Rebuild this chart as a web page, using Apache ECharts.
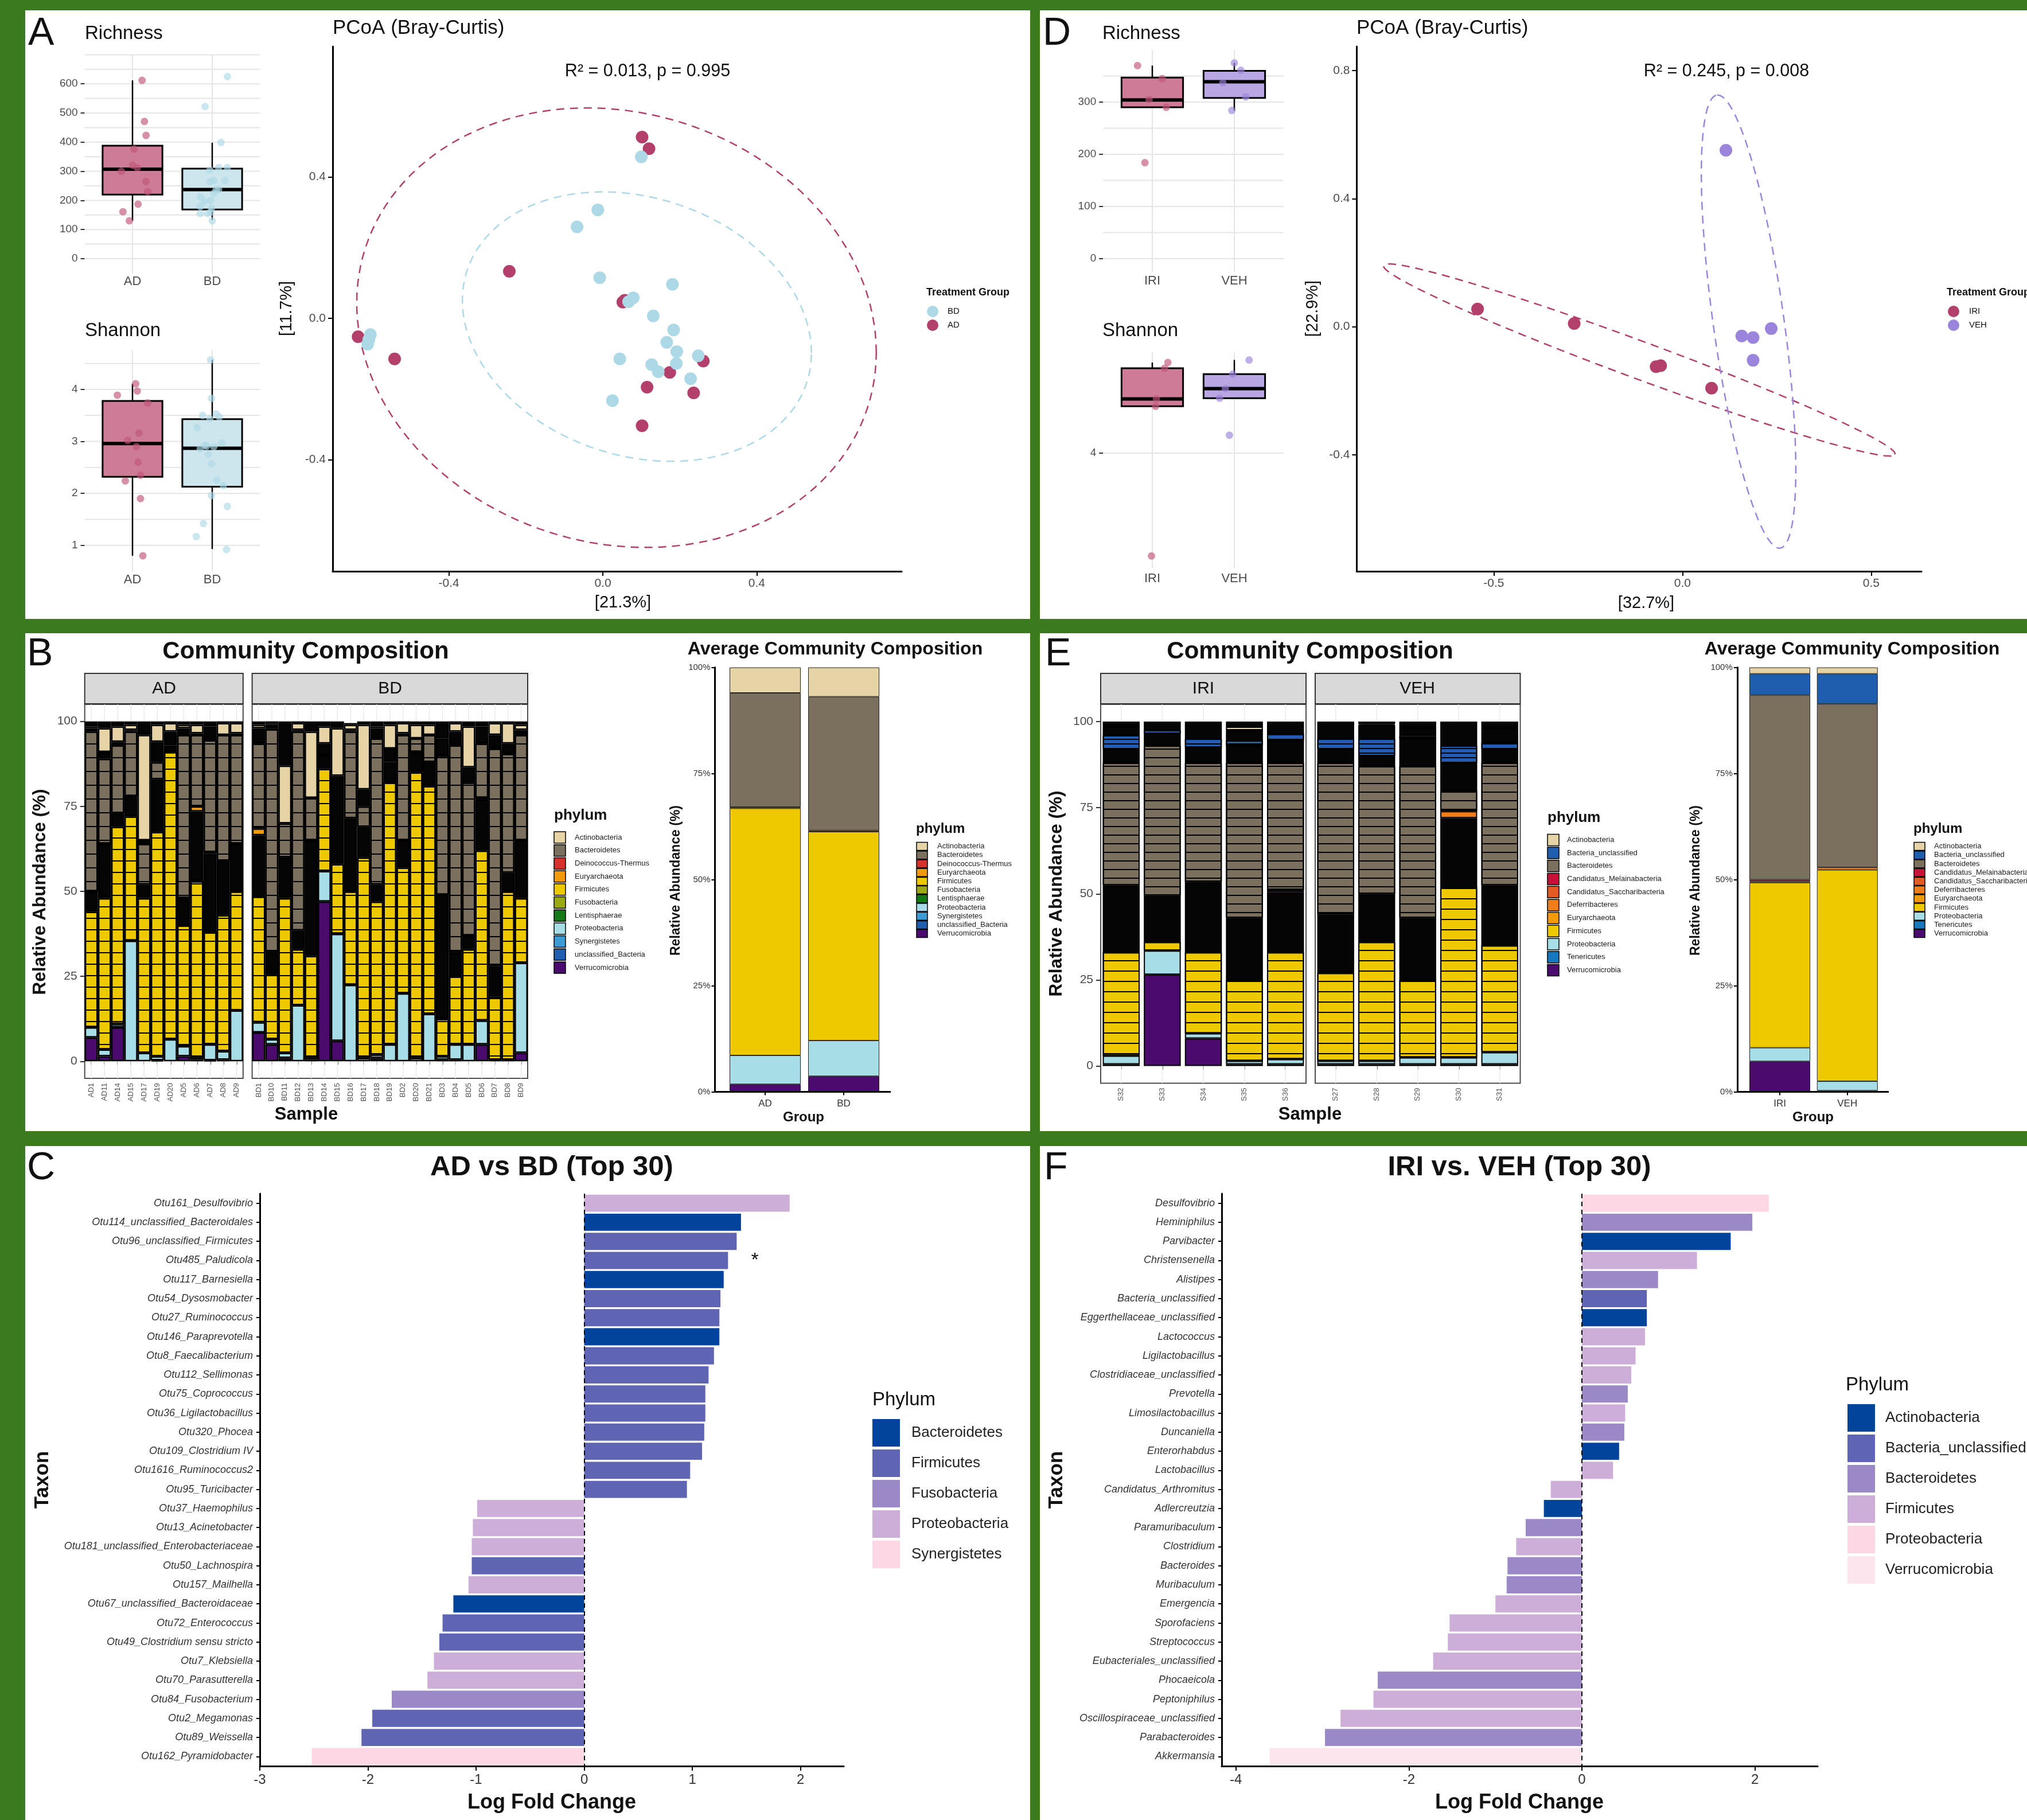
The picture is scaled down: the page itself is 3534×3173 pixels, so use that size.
<!DOCTYPE html>
<html>
<head>
<meta charset="UTF-8">
<title>Gut microbiome: diversity, composition and differential abundance</title>
<script src="https://cdn.jsdelivr.net/npm/echarts@6.0.0/dist/echarts.min.js"></script>
<style>
  html, body { margin: 0; padding: 0; background: #3c7a1f; }
  #main { width: 3534px; height: 3173px; }
</style>
</head>
<body>
<div id="main"></div>
<script>
// ---------------- panel A : alpha / beta diversity, AD vs BD ----------------
const groupsA = ['AD', 'BD'];
const richnessAD = [612, 471, 423, 376, 321, 312, 300, 265, 230, 187, 161, 130];
const richnessADJitter = [0.12, 0.15, 0.17, 0.02, 0.0, 0.06, -0.14, 0.17, 0.19, 0.07, -0.12, -0.04];
const richnessBD = [625, 522, 399, 313, 313, 304, 268, 268, 264, 237, 213, 200, 179, 173, 155, 155, 159, 130, 237, 224, 197];
const richnessBDJitter = [0.19, -0.09, 0.11, 0.19, 0.08, -0.03, 0.02, 0.16, -0.03, 0.08, -0.15, -0.02, -0.15, -0.01, -0.15, -0.06, -0.02, 0.0, 0.05, 0.02, -0.10];
const richnessBoxAD = [130, 220, 307, 388, 612];   // min, q1, median, q3, max
const richnessBoxBD = [133, 169, 237, 309, 398];
const shannonAD = [4.11, 3.97, 3.89, 3.74, 3.16, 3.02, 2.90, 2.60, 2.35, 2.24, 1.90, 0.80];
const shannonADJitter = [0.04, 0.06, -0.19, 0.19, 0.08, -0.06, 0.05, 0.07, 0.10, -0.09, 0.10, 0.13];
const shannonBD = [4.57, 3.83, 3.53, 3.50, 3.47, 3.44, 3.27, 2.97, 2.93, 2.90, 2.86, 2.75, 2.57, 2.26, 2.15, 1.96, 1.75, 1.42, 1.17, 0.92, 2.91];
const shannonBDJitter = [-0.02, -0.01, 0.05, -0.12, 0.09, -0.03, -0.19, 0.12, -0.09, 0.02, -0.15, -0.05, -0.01, 0.06, 0.14, -0.01, 0.19, -0.11, -0.20, 0.18, -0.07];
const shannonBoxAD = [0.80, 2.32, 2.96, 3.78, 4.11];
const shannonBoxBD = [0.93, 2.13, 2.87, 3.43, 4.57];
const pcoaAD = [[0.102, 0.513], [0.120, 0.480], [-0.243, 0.133], [0.057, 0.051], [0.052, 0.046], [-0.636, -0.052],
  [-0.541, -0.115], [0.261, -0.121], [0.174, -0.153], [0.115, -0.195], [0.236, -0.211], [0.102, -0.304]];
const pcoaBD = [[0.100, 0.457], [-0.013, 0.307], [-0.067, 0.259], [-0.008, 0.115], [0.181, 0.096], [0.079, 0.058],
  [0.067, 0.047], [0.131, 0.007], [0.184, -0.033], [-0.604, -0.046], [-0.608, -0.060], [-0.611, -0.073],
  [0.166, -0.068], [0.192, -0.094], [0.248, -0.106], [0.044, -0.115], [0.127, -0.131], [0.191, -0.128],
  [0.144, -0.151], [0.228, -0.171], [0.025, -0.233]];
// ellipse: centre x, centre y, conjugate half-axis u (x, y), conjugate half-axis v (x, y)
const ellipseAD = [0.0355, -0.0265, 0.675, -0.07, 0, 0.618];
const ellipseBD = [0.0885, -0.0235, 0.4535, -0.0745, 0, 0.374];

// ---------------- panel D : alpha / beta diversity, IRI vs VEH ----------------
const groupsD = ['IRI', 'VEH'];
const richnessIRI = [370, 345, 305, 290, 184];
const richnessIRIJitter = [-0.18, 0.12, -0.04, 0.17, -0.09];
const richnessVEH = [361, 337, 310, 284, 375];
const richnessVEHJitter = [0.08, -0.14, 0.14, -0.03, 0.0];
const richnessBoxIRI = [290, 290, 304, 347, 370];
const richnessBoxVEH = [284, 308, 339, 360, 375];
const shannonIRI = [4.358, 4.335, 4.214, 4.185, 3.594];
const shannonIRIJitter = [0.19, 0.15, 0.05, 0.04, -0.01];
const shannonVEH = [4.368, 4.312, 4.255, 4.217, 4.071];
const shannonVEHJitter = [0.18, -0.02, -0.11, -0.18, -0.06];
const shannonBoxIRI = [4.185, 4.185, 4.214, 4.335, 4.358];
const shannonBoxVEH = [4.217, 4.217, 4.255, 4.312, 4.368];
const pcoaIRI = [[-0.543, 0.055], [-0.287, 0.010], [-0.070, -0.125], [-0.058, -0.122], [0.077, -0.192]];
const pcoaVEH = [[0.115, 0.551], [0.157, -0.029], [0.187, -0.034], [0.235, -0.006], [0.187, -0.105]];
const ellipseIRI = [-0.1145, -0.104, 0.6775, -0.2955, 0.0228, 0.0523];
const ellipseVEH = [0.175, 0.0158, -0.0833, 0.7077, 0.0934, 0.011];

// gridline positions of the small box plots
const richnessGridA = [0, 50, 100, 150, 200, 250, 300, 350, 400, 450, 500, 550, 600, 650, 700];
const shannonGridA = [1, 1.5, 2, 2.5, 3, 3.5, 4, 4.5];
const richnessGridD = [0, 50, 100, 150, 200, 250, 300, 350];
const shannonGridD = [4];

// ---------------- panel B : composition per sample (% , bottom to top) ----------------
const adSamples = ['AD1', 'AD11', 'AD14', 'AD15', 'AD17', 'AD19', 'AD20', 'AD5', 'AD6', 'AD7', 'AD8', 'AD9'];
const adVerruco = [7, 1.5, 10, 0, 0, 0.3, 0, 1.5, 0.5, 0.3, 0.5, 0];
const adProteo = [3, 2, 1, 35.5, 2.5, 1.2, 6.5, 3, 0.5, 4.7, 2.5, 15];
const adFirm = [34, 44.5, 58, 36.5, 45.5, 66, 84.5, 35.5, 52, 33, 40, 35];
const adFirmRare = [6, 16, 4, 6, 4, 15.5, 2, 8, 20.5, 23, 16, 14];
const adEury = [0, 0, 0, 0, 0, 0, 0, 0, 1.5, 0.5, 0, 0];
const adBact = [47, 25, 20, 19, 12, 5, 0, 48, 21, 33, 37, 32];
const adBactRare = [1, 2, 1, 0.5, 1, 6, 4, 2, 0.5, 4, 0, 0.5];
const adActino = [0.5, 7, 4.5, 1.5, 31, 5, 2.5, 1, 2.5, 0, 3.5, 3];
const adActinoRare = [1.5, 2, 1.5, 1, 4, 1, 0.5, 1, 1, 1.5, 0.5, 0.5];

const bdSamples = ['BD1', 'BD10', 'BD11', 'BD12', 'BD13', 'BD14', 'BD15', 'BD16', 'BD17', 'BD18', 'BD19', 'BD2', 'BD20', 'BD21', 'BD3', 'BD4', 'BD5', 'BD6', 'BD7', 'BD8', 'BD9'];
const bdVerruco = [8.5, 5, 1, 0, 0.5, 47, 6, 0, 0, 1, 0, 0, 0, 0, 0.5, 0.5, 0, 5, 0, 0, 2.5];
const bdProteo = [3, 1.5, 1.5, 16.5, 0.5, 9, 31.5, 22.5, 1, 1, 5, 20, 1, 14, 1, 4.5, 5, 7, 0.5, 0.5, 26.5];
const bdFirm = [37, 19, 45.5, 16.5, 30, 30, 20.5, 27.5, 59, 45, 77, 37, 84, 67, 11, 20, 28, 50, 18.5, 49.5, 19];
const bdFirmRare = [18, 6.5, 12, 5.5, 34, 4, 26, 21.5, 9, 5, 6, 8, 6, 7, 36.5, 7, 4, 15, 9, 5.5, 17];
const bdEury = [2, 0, 0, 0, 0, 0, 0, 0, 0, 0, 0, 0, 0, 0, 0, 0, 0, 0.5, 0, 0, 0];
const bdBact = [25, 66, 10, 58.5, 12.5, 0, 0, 25.5, 6, 43, 0, 31, 4, 8, 41, 61, 45, 16, 64, 35, 31];
const bdBactRare = [4.5, 1, 0, 0.5, 0, 3.5, 0, 0.5, 5, 3, 4, 0.5, 0, 0, 5, 4, 4.5, 5, 4, 3, 1.5];
const bdActino = [1, 0.5, 17, 2, 19.5, 5, 14, 1.5, 19, 0.5, 7, 3, 4, 3, 0, 2.5, 12, 0, 3.5, 6, 1.5];
const bdActinoRare = [1, 0.5, 13, 0.5, 3, 1.5, 2, 0.5, 1, 1.5, 1, 0.5, 1, 1, 5, 0.5, 1.5, 1.5, 0.5, 0.5, 1];

// group means, B (AD, BD)
const avgGroupsB = ['AD', 'BD'];
const avgVerrucoB = [1.8, 3.7];
const avgProteoB = [6.8, 8.4];
const avgFirmB = [58.2, 49.2];
const avgEuryB = [0.3, 0.3];
const avgBactB = [26.9, 31.5];
const avgActinoB = [6.0, 6.9];

// ---------------- panel E : composition per sample ----------------
const iriSamples = ['S32', 'S33', 'S34', 'S35', 'S36'];
const iriVerruco = [0.5, 26.5, 8, 0.5, 0.5];
const iriProteo = [2.5, 7, 1.5, 1, 1.5];
const iriFirm = [30, 2.5, 23.5, 23.5, 31];
const iriFirmRare = [19.5, 13.5, 20.5, 18, 17.5];
const iriDefer = [0, 0, 0, 0, 0];
const iriMelaina = [0, 0, 0, 0, 0.7];
const iriBact = [35.5, 43.5, 34.5, 45, 36.8];
const iriBactRare = [4, 3.5, 4.5, 5, 6.5];
const iriUncl = [4, 1, 2.5, 1.5, 2];
const iriUnclRare = [2.5, 2.5, 5, 3, 3.5];
const iriActino = [0.5, 0, 0, 1, 0];
const iriActinoRare = [1, 0, 0, 1.5, 0];

const vehSamples = ['S27', 'S28', 'S29', 'S30', 'S31'];
const vehVerruco = [0.5, 0.5, 0.5, 0.5, 0.5];
const vehProteo = [1, 1, 2, 2, 3.5];
const vehFirm = [25.5, 34.5, 22.5, 49.5, 31];
const vehFirmRare = [17, 14, 18, 20, 17.5];
const vehDefer = [0, 0, 0, 2, 0];
const vehMelaina = [0, 0, 0, 0, 0];
const vehBact = [44, 37, 44, 6, 35.5];
const vehBactRare = [4, 3, 8, 8, 4];
const vehUncl = [3, 5, 0.7, 5, 2];
const vehUnclRare = [5, 4, 2.3, 7, 4];
const vehActino = [0, 0.3, 0.5, 0, 0.5];
const vehActinoRare = [0, 0.7, 1.5, 0, 1.5];

// group means, E (IRI, VEH)
const avgGroupsE = ['IRI', 'VEH'];
const avgVerrucoE = [7.2, 0];
const avgTenerE = [0, 0.3];
const avgProteoE = [3.2, 2.2];
const avgFirmE = [38.9, 49.8];
const avgDeferE = [0.3, 0.6];
const avgMelainaE = [0.4, 0];
const avgBactE = [43.5, 38.5];
const avgUnclE = [5.0, 7.1];
const avgActinoE = [1.5, 1.5];

// ---------------- panel C : differential abundance AD vs BD ----------------
const cTaxa = ['Otu161_Desulfovibrio', 'Otu114_unclassified_Bacteroidales', 'Otu96_unclassified_Firmicutes', 'Otu485_Paludicola',
  'Otu117_Barnesiella', 'Otu54_Dysosmobacter', 'Otu27_Ruminococcus', 'Otu146_Paraprevotella', 'Otu8_Faecalibacterium',
  'Otu112_Sellimonas', 'Otu75_Coprococcus', 'Otu36_Ligilactobacillus', 'Otu320_Phocea', 'Otu109_Clostridium IV',
  'Otu1616_Ruminococcus2', 'Otu95_Turicibacter', 'Otu37_Haemophilus', 'Otu13_Acinetobacter',
  'Otu181_unclassified_Enterobacteriaceae', 'Otu50_Lachnospira', 'Otu157_Mailhella', 'Otu67_unclassified_Bacteroidaceae',
  'Otu72_Enterococcus', 'Otu49_Clostridium sensu stricto', 'Otu7_Klebsiella', 'Otu70_Parasutterella',
  'Otu84_Fusobacterium', 'Otu2_Megamonas', 'Otu89_Weissella', 'Otu162_Pyramidobacter'];
const cLogFC = [1.90, 1.45, 1.41, 1.33, 1.29, 1.26, 1.25, 1.25, 1.20, 1.15, 1.12, 1.12, 1.11, 1.09, 0.98, 0.95,
  -0.99, -1.03, -1.04, -1.04, -1.07, -1.21, -1.31, -1.34, -1.39, -1.45, -1.78, -1.96, -2.06, -2.52];
const cPhylum = ['Proteobacteria', 'Bacteroidetes', 'Firmicutes', 'Firmicutes', 'Bacteroidetes', 'Firmicutes', 'Firmicutes',
  'Bacteroidetes', 'Firmicutes', 'Firmicutes', 'Firmicutes', 'Firmicutes', 'Firmicutes', 'Firmicutes', 'Firmicutes',
  'Firmicutes', 'Proteobacteria', 'Proteobacteria', 'Proteobacteria', 'Firmicutes', 'Proteobacteria', 'Bacteroidetes',
  'Firmicutes', 'Firmicutes', 'Proteobacteria', 'Proteobacteria', 'Fusobacteria', 'Firmicutes', 'Firmicutes', 'Synergistetes'];
const cPhylaLegend = ['Bacteroidetes', 'Firmicutes', 'Fusobacteria', 'Proteobacteria', 'Synergistetes'];

// ---------------- panel F : differential abundance IRI vs VEH ----------------
const fTaxa = ['Desulfovibrio', 'Heminiphilus', 'Parvibacter', 'Christensenella', 'Alistipes', 'Bacteria_unclassified',
  'Eggerthellaceae_unclassified', 'Lactococcus', 'Ligilactobacillus', 'Clostridiaceae_unclassified', 'Prevotella',
  'Limosilactobacillus', 'Duncaniella', 'Enterorhabdus', 'Lactobacillus', 'Candidatus_Arthromitus', 'Adlercreutzia',
  'Paramuribaculum', 'Clostridium', 'Bacteroides', 'Muribaculum', 'Emergencia', 'Sporofaciens', 'Streptococcus',
  'Eubacteriales_unclassified', 'Phocaeicola', 'Peptoniphilus', 'Oscillospiraceae_unclassified', 'Parabacteroides', 'Akkermansia'];
const fLogFC = [2.16, 1.97, 1.72, 1.33, 0.88, 0.75, 0.75, 0.73, 0.62, 0.57, 0.53, 0.50, 0.49, 0.43, 0.36,
  -0.36, -0.44, -0.65, -0.76, -0.86, -0.87, -1.00, -1.53, -1.55, -1.72, -2.36, -2.41, -2.79, -2.97, -3.61];
const fPhylum = ['Proteobacteria', 'Bacteroidetes', 'Actinobacteria', 'Firmicutes', 'Bacteroidetes', 'Bacteria_unclassified',
  'Actinobacteria', 'Firmicutes', 'Firmicutes', 'Firmicutes', 'Bacteroidetes', 'Firmicutes', 'Bacteroidetes', 'Actinobacteria',
  'Firmicutes', 'Firmicutes', 'Actinobacteria', 'Bacteroidetes', 'Firmicutes', 'Bacteroidetes', 'Bacteroidetes', 'Firmicutes',
  'Firmicutes', 'Firmicutes', 'Firmicutes', 'Bacteroidetes', 'Firmicutes', 'Firmicutes', 'Bacteroidetes', 'Verrucomicrobia'];
const fPhylaLegend = ['Actinobacteria', 'Bacteria_unclassified', 'Bacteroidetes', 'Firmicutes', 'Proteobacteria', 'Verrucomicrobia'];

const bLegend = ['Actinobacteria', 'Bacteroidetes', 'Deinococcus-Thermus', 'Euryarchaeota', 'Firmicutes', 'Fusobacteria',
  'Lentisphaerae', 'Proteobacteria', 'Synergistetes', 'unclassified_Bacteria', 'Verrucomicrobia'];
const eLegend = ['Actinobacteria', 'Bacteria_unclassified', 'Bacteroidetes', 'Candidatus_Melainabacteria',
  'Candidatus_Saccharibacteria', 'Deferribacteres', 'Euryarchaeota', 'Firmicutes', 'Proteobacteria', 'Tenericutes', 'Verrucomicrobia'];

// ---------------- styling ----------------
const FONT = '"Liberation Sans", Arial, Helvetica, sans-serif';
const PHY = {
  'Actinobacteria': '#e6d4a6', 'Bacteroidetes': '#7a705d', 'Deinococcus-Thermus': '#d7312e', 'Euryarchaeota': '#f29a0c',
  'Firmicutes': '#efc900', 'Fusobacteria': '#9ba914', 'Lentisphaerae': '#157a16', 'Proteobacteria': '#a7dde6',
  'Synergistetes': '#3b9bd2', 'unclassified_Bacteria': '#1f5eae', 'Verrucomicrobia': '#4b0b6e',
  'Bacteria_unclassified': '#1f5eae', 'Candidatus_Melainabacteria': '#c8123a', 'Candidatus_Saccharibacteria': '#e35a22',
  'Deferribacteres': '#ef7d1a', 'Tenericutes': '#1679bf'
};
const C_COL = { Bacteroidetes: '#02449c', Firmicutes: '#5f64b3', Fusobacteria: '#9a88c7', Proteobacteria: '#cdaed9', Synergistetes: '#fdd7e4' };
const F_COL = { Actinobacteria: '#02449c', Bacteria_unclassified: '#5f64b3', Bacteroidetes: '#9a88c7', Firmicutes: '#cdaed9',
  Proteobacteria: '#fdd7e4', Verrucomicrobia: '#fde5ee' };
const RED_BOX = '#cd7b96', RED_PT = '#c0567a', RED_DOT = '#b3406a';
const BLUE_BOX = '#cde6ee', BLUE_PT = '#add8e6';
const PURP_BOX = '#b9a7e3', PURP_PT = '#9b84dc';
const BLACK = '#050505';
const stripes = (gap) => ({ symbol: 'rect', symbolSize: 1, dashArrayX: [1, 0], dashArrayY: [2, gap], color: '#000', rotation: 0 });

// ---------------- helpers ----------------
function boxItem(params, api) {
  const x = api.value(0);
  const lo = api.coord([x, api.value(1)]);
  const q1 = api.coord([x, api.value(2)]);
  const md = api.coord([x, api.value(3)]);
  const q3 = api.coord([x, api.value(4)]);
  const hi = api.coord([x, api.value(5)]);
  const hw = api.size([0.75, 0])[0] / 2;
  const ls = { stroke: '#000', lineWidth: 2.5 };
  return {
    type: 'group', children: [
      { type: 'line', shape: { x1: lo[0], y1: lo[1], x2: q1[0], y2: q1[1] }, style: ls },
      { type: 'line', shape: { x1: q3[0], y1: q3[1], x2: hi[0], y2: hi[1] }, style: ls },
      { type: 'rect', shape: { x: q1[0] - hw, y: q3[1], width: 2 * hw, height: q1[1] - q3[1] },
        style: { fill: api.visual('color'), stroke: '#000', lineWidth: 3 } },
      { type: 'line', shape: { x1: md[0] - hw, y1: md[1], x2: md[0] + hw, y2: md[1] }, style: { stroke: '#000', lineWidth: 6 } }
    ]
  };
}

// one gridline per item: [x, y, 0] horizontal through y, [x, y, 1] vertical through x
function gridLineItem(color, width) {
  return function (params, api) {
    const cs = params.coordSys;
    const p = api.coord([api.value(0), api.value(1)]);
    const vertical = api.value(2) === 1;
    return {
      type: 'line',
      shape: vertical ? { x1: p[0], y1: cs.y, x2: p[0], y2: cs.y + cs.height } : { x1: cs.x, y1: p[1], x2: cs.x + cs.width, y2: p[1] },
      style: { stroke: color, lineWidth: width }
    };
  };
}
function gridSeries(gi, hVals, vVals, xRef, yRef, color, width) {
  return {
    type: 'custom', xAxisIndex: gi, yAxisIndex: gi, silent: true, z: 1, renderItem: gridLineItem(color, width),
    data: hVals.map(v => [xRef, v, 0]).concat(vVals.map(v => [v, yRef, 1]))
  };
}

function ellipse(p) {
  const pts = [];
  for (let k = 0; k <= 144; k++) {
    const t = 2 * Math.PI * k / 144;
    pts.push([p[0] + p[2] * Math.cos(t) + p[4] * Math.sin(t), p[1] + p[3] * Math.cos(t) + p[5] * Math.sin(t)]);
  }
  return pts;
}

function boxXAxis(gi, labels, margin) {
  return {
    gridIndex: gi, type: 'value', min: 0.4, max: 2.6,
    axisLine: { show: false },
    axisTick: { show: true, inside: true, customValues: [1, 2], length: 7, lineStyle: { color: '#333', width: 2 } },
    axisLabel: { customValues: [1, 2], formatter: v => labels[Math.round(v) - 1], fontSize: 22, fontFamily: FONT, color: '#4d4d4d', margin },
    splitLine: { show: false }
  };
}
function boxYAxis(gi, min, max, labels, fmt) {
  return {
    gridIndex: gi, type: 'value', min, max,
    axisLine: { show: false },
    axisTick: { show: true, customValues: labels, length: 7, lineStyle: { color: '#333', width: 2 } },
    axisLabel: { customValues: labels, fontSize: 19, fontFamily: FONT, color: '#4d4d4d', margin: 12, formatter: fmt || (v => String(v)) },
    splitLine: { show: false }
  };
}
function pcoaAxis(gi, min, max, ticks, vertical) {
  return {
    gridIndex: gi, type: 'value', min, max,
    axisLine: { show: true, onZero: false, lineStyle: { color: '#000', width: 3 } },
    axisTick: { show: true, customValues: ticks, length: 8, lineStyle: { color: '#000', width: 2 } },
    axisLabel: { customValues: ticks, fontSize: 21, fontFamily: FONT, color: '#4d4d4d', margin: vertical ? 12 : 11,
      formatter: v => v.toFixed(1) },
    splitLine: { show: false }
  };
}
function sampleXAxis(gi, names) {
  return {
    gridIndex: gi, type: 'category', data: names,
    axisLine: { show: false },
    axisTick: { show: true, alignWithLabel: true, length: 6, lineStyle: { color: '#333', width: 1.5 } },
    axisLabel: { rotate: 90, interval: 0, fontSize: 13, fontFamily: FONT, color: '#555', margin: 8 },
    splitLine: { show: false }
  };
}
function pctYAxis(gi, show) {
  return {
    gridIndex: gi, type: 'value', min: -5, max: 105,
    axisLine: { show: false },
    axisTick: { show, customValues: [0, 25, 50, 75, 100], length: 8, lineStyle: { color: '#333', width: 2 } },
    axisLabel: { show, customValues: [0, 25, 50, 75, 100], fontSize: 21, fontFamily: FONT, color: '#4d4d4d', margin: 13 },
    splitLine: { show: false }
  };
}
function avgXAxis(gi, names) {
  return {
    gridIndex: gi, type: 'category', data: names,
    axisLine: { show: false },
    axisTick: { show: true, alignWithLabel: true, length: 6, lineStyle: { color: '#000', width: 2 } },
    axisLabel: { fontSize: 17, fontFamily: FONT, color: '#333', margin: 12 }
  };
}
function avgYAxis(gi, offset) {
  return {
    gridIndex: gi, type: 'value', min: 0, max: 100, offset,
    axisLine: { show: true, lineStyle: { color: '#000', width: 3 } },
    axisTick: { show: true, customValues: [0, 25, 50, 75, 100], length: 6, lineStyle: { color: '#000', width: 2 } },
    axisLabel: { customValues: [0, 25, 50, 75, 100], formatter: v => v + '%', fontSize: 15, fontFamily: FONT, color: '#333', margin: 8 },
    splitLine: { show: false }
  };
}
function lfcXAxis(gi, min, max, ticks) {
  return {
    gridIndex: gi, type: 'value', min, max,
    axisLine: { show: true, onZero: false, lineStyle: { color: '#000', width: 3 } },
    axisTick: { show: true, customValues: ticks, length: 8, lineStyle: { color: '#000', width: 2 } },
    axisLabel: { customValues: ticks, fontSize: 24, fontFamily: FONT, color: '#333', margin: 12 },
    splitLine: { show: false }
  };
}
function taxonYAxis(gi, taxa) {
  return {
    gridIndex: gi, type: 'category', inverse: true, data: taxa,
    axisLine: { show: true, onZero: false, lineStyle: { color: '#000', width: 3 } },
    axisTick: { show: true, alignWithLabel: true, length: 6, lineStyle: { color: '#000', width: 2 } },
    axisLabel: { interval: 0, fontSize: 18, fontStyle: 'italic', fontFamily: FONT, color: '#333', margin: 12 }
  };
}

function boxSeries(gi, boxA, boxB, colA, colB) {
  return {
    type: 'custom', xAxisIndex: gi, yAxisIndex: gi, renderItem: boxItem, silent: true, z: 3,
    encode: { x: 0, y: [1, 2, 3, 4, 5] },
    data: [{ value: [1].concat(boxA), itemStyle: { color: colA } }, { value: [2].concat(boxB), itemStyle: { color: colB } }]
  };
}
function jitterSeries(gi, pos, vals, jit, color) {
  return {
    type: 'scatter', xAxisIndex: gi, yAxisIndex: gi, silent: true, z: 4, symbolSize: 13,
    itemStyle: { color, opacity: 0.65 },
    data: vals.map((v, i) => [pos + jit[i], v])
  };
}
function dotSeries(gi, pts, color) {
  return { type: 'scatter', xAxisIndex: gi, yAxisIndex: gi, silent: true, z: 4, symbolSize: 22, itemStyle: { color, opacity: 1 }, data: pts };
}
function ellipseSeries(gi, p, color) {
  return {
    type: 'line', xAxisIndex: gi, yAxisIndex: gi, silent: true, z: 2, showSymbol: false, symbol: 'none',
    lineStyle: { color, width: 2.5, type: [14, 10] }, data: ellipse(p)
  };
}
function stackSeries(gi, layers, border, gap) {
  return layers.map(([arr, color, decal]) => ({
    type: 'bar', xAxisIndex: gi, yAxisIndex: gi, stack: 'st' + gi, silent: true, barCategoryGap: gap, z: 2,
    data: arr.map(v => (v === 0 ? '-' : v)),
    itemStyle: Object.assign({ color, borderColor: '#000', borderWidth: border }, decal ? { decal } : {})
  }));
}
function avgSeries(gi, layers, width) {
  return layers.map(([arr, color]) => ({
    type: 'bar', xAxisIndex: gi, yAxisIndex: gi, stack: 'st' + gi, silent: true, barWidth: width,
    data: arr.map(v => (v === 0 ? '-' : v)),
    itemStyle: { color, borderColor: '#222', borderWidth: 1 }
  }));
}
function lfcSeries(gi, vals, phyla, cols) {
  return {
    type: 'bar', xAxisIndex: gi, yAxisIndex: gi, silent: true, barCategoryGap: '10%',
    data: vals.map((v, i) => ({ value: v, itemStyle: { color: cols[phyla[i]] } })),
    markLine: { silent: true, symbol: 'none', label: { show: false }, animation: false,
      lineStyle: { color: '#000', width: 2, type: [8, 6] }, data: [{ xAxis: 0 }] }
  };
}

// ---------------- graphic helpers ----------------
function txt(x, y, text, size, o) {
  o = o || {};
  const font = (o.italic ? 'italic ' : '') + (o.bold ? 'bold ' : '') + size + 'px ' + FONT;
  return { type: 'text', x, y, rotation: o.rot || 0, z: 50, silent: true,
    style: { text, font, fill: o.color || '#111', textAlign: o.align || 'left', textVerticalAlign: 'middle' } };
}
function rect(x, y, w, h, fill, stroke, lw, z) {
  return { type: 'rect', silent: true, z: z === undefined ? 50 : z, shape: { x, y, width: w, height: h },
    style: { fill, stroke: stroke || null, lineWidth: lw || 0 } };
}
function squareLegend(x, y0, step, w, h, names, colorOf, size, labelX, border) {
  const out = [];
  names.forEach((n, i) => {
    const cy = y0 + i * step;
    out.push(rect(x, cy - h / 2, w, h, colorOf(n), border ? '#000' : null, border ? 1.5 : 0));
    out.push(txt(labelX, cy, n, size, { color: '#222' }));
  });
  return out;
}

const graphics = [];
// white panels on the green page
[[44, 18, 1752, 1061], [1813, 18, 1721, 1061], [44, 1104, 1752, 868], [1813, 1104, 1721, 868],
 [44, 1998, 1752, 1175], [1813, 1998, 1721, 1175]].forEach(p => graphics.push(rect(p[0], p[1], p[2], p[3], '#fff', null, 0, -10)));

// panel A texts
graphics.push(txt(49, 59, 'A', 68), txt(148, 59, 'Richness', 33), txt(148, 577, 'Shannon', 33),
  txt(580, 49, 'PCoA (Bray-Curtis)', 35), txt(1129, 125, 'R² = 0.013, p = 0.995', 30.5, { align: 'center' }),
  txt(500, 538, '[11.7%]', 29, { align: 'center', rot: Math.PI / 2 }), txt(1086, 1051, '[21.3%]', 29, { align: 'center' }),
  txt(1615, 510, 'Treatment Group', 18, { bold: true }), txt(1652, 543, 'BD', 15), txt(1652, 567, 'AD', 15),
  { type: 'circle', silent: true, z: 50, shape: { cx: 1626, cy: 543, r: 10 }, style: { fill: BLUE_PT } },
  { type: 'circle', silent: true, z: 50, shape: { cx: 1626, cy: 567, r: 10 }, style: { fill: RED_DOT } });
// panel D texts
graphics.push(txt(1818, 59, 'D', 68), txt(1922, 59, 'Richness', 33), txt(1922, 577, 'Shannon', 33),
  txt(2365, 49, 'PCoA (Bray-Curtis)', 35), txt(3010, 125, 'R² = 0.245, p = 0.008', 30.5, { align: 'center' }),
  txt(2289, 538, '[22.9%]', 29, { align: 'center', rot: Math.PI / 2 }), txt(2870, 1052, '[32.7%]', 29, { align: 'center' }),
  txt(3394, 510, 'Treatment Group', 18, { bold: true }), txt(3433, 543, 'IRI', 15), txt(3433, 567, 'VEH', 15),
  { type: 'circle', silent: true, z: 50, shape: { cx: 3406, cy: 543, r: 10 }, style: { fill: RED_DOT } },
  { type: 'circle', silent: true, z: 50, shape: { cx: 3406, cy: 567, r: 10 }, style: { fill: PURP_PT } });
// panel B texts
graphics.push(txt(47, 1141, 'B', 68), txt(533, 1136, 'Community Composition', 42, { bold: true, align: 'center' }),
  txt(1456, 1132, 'Average Community Composition', 32, { bold: true, align: 'center' }),
  rect(147.7, 1174, 276.1, 53, '#d9d9d9', '#333', 2), rect(439.6, 1174, 480.4, 53, '#d9d9d9', '#333', 2),
  txt(286, 1201, 'AD', 30, { align: 'center' }), txt(680, 1201, 'BD', 30, { align: 'center' }),
  txt(70, 1555, 'Relative Abundance (%)', 31.5, { bold: true, align: 'center', rot: Math.PI / 2 }),
  txt(534, 1943, 'Sample', 31, { bold: true, align: 'center' }),
  txt(1179, 1535, 'Relative Abundance (%)', 23, { bold: true, align: 'center', rot: Math.PI / 2 }),
  txt(1401, 1948, 'Group', 24, { bold: true, align: 'center' }),
  { type: 'line', silent: true, z: 50, shape: { x1: 1246.5, y1: 1903.6, x2: 1553, y2: 1903.6 }, style: { stroke: '#000', lineWidth: 3 } },
  txt(966, 1422, 'phylum', 26, { bold: true }), txt(1597, 1445, 'phylum', 24, { bold: true }));
graphics.push(...squareLegend(966, 1460, 22.7, 20, 20, bLegend, n => PHY[n], 13, 1002, true));
graphics.push(...squareLegend(1598, 1475.6, 15.2, 19, 14, bLegend, n => PHY[n], 13, 1634, true));
// panel E texts
graphics.push(txt(1822, 1141, 'E', 68), txt(2284, 1136, 'Community Composition', 42, { bold: true, align: 'center' }),
  txt(3229, 1132, 'Average Community Composition', 32, { bold: true, align: 'center' }),
  rect(1919, 1174, 358, 53, '#d9d9d9', '#333', 2), rect(2293, 1174, 357.5, 53, '#d9d9d9', '#333', 2),
  txt(2098, 1201, 'IRI', 30, { align: 'center' }), txt(2471, 1201, 'VEH', 30, { align: 'center' }),
  txt(1842, 1558, 'Relative Abundance (%)', 31.5, { bold: true, align: 'center', rot: Math.PI / 2 }),
  txt(2284, 1943, 'Sample', 31, { bold: true, align: 'center' }),
  txt(2957, 1535, 'Relative Abundance (%)', 23, { bold: true, align: 'center', rot: Math.PI / 2 }),
  txt(3161, 1948, 'Group', 24, { bold: true, align: 'center' }),
  { type: 'line', silent: true, z: 50, shape: { x1: 3028.8, y1: 1903.6, x2: 3293, y2: 1903.6 }, style: { stroke: '#000', lineWidth: 3 } },
  txt(2698, 1426, 'phylum', 26, { bold: true }), txt(3336, 1445, 'phylum', 24, { bold: true }));
graphics.push(...squareLegend(2698, 1464.4, 22.7, 20, 20, eLegend, n => PHY[n], 13, 2732, true));
graphics.push(...squareLegend(3337, 1475.6, 15.2, 19, 14, eLegend, n => PHY[n], 13, 3372, true));
// panel C texts
graphics.push(txt(47, 2037, 'C', 68), txt(962, 2035, 'AD vs BD (Top 30)', 49, { bold: true, align: 'center' }),
  txt(74, 2580, 'Taxon', 35, { bold: true, align: 'center', rot: Math.PI / 2 }),
  txt(962, 3143, 'Log Fold Change', 36, { bold: true, align: 'center' }),
  txt(1316, 2198, '*', 34, { align: 'center' }), txt(1521, 2441, 'Phylum', 33));
graphics.push(...squareLegend(1521, 2498, 53, 48, 48, cPhylaLegend, n => C_COL[n], 26, 1589, false));
// panel F texts
graphics.push(txt(1820, 2037, 'F', 68), txt(2649, 2035, 'IRI vs. VEH (Top 30)', 49, { bold: true, align: 'center' }),
  txt(1842, 2580, 'Taxon', 35, { bold: true, align: 'center', rot: Math.PI / 2 }),
  txt(2649, 3143, 'Log Fold Change', 36, { bold: true, align: 'center' }), txt(3218, 2415, 'Phylum', 33));
graphics.push(...squareLegend(3221, 2472, 53, 48, 48, fPhylaLegend, n => F_COL[n], 26, 3287, false));

// ---------------- grids / axes ----------------
const grids = [
  { left: 147.6, top: 95.4, width: 305.8, height: 381 },        // 0 A richness
  { left: 147.6, top: 611.05, width: 305.8, height: 385.05 },   // 1 A shannon
  { left: 580, top: 81, width: 992, height: 915 },              // 2 A PCoA
  { left: 1923.2, top: 87, width: 314.6, height: 386.75 },      // 3 D richness
  { left: 1923.2, top: 613.4, width: 314.6, height: 375.3 },    // 4 D shannon
  { left: 2365.4, top: 81, width: 984.6, height: 915 },         // 5 D PCoA
  { left: 147.7, top: 1228, width: 276.1, height: 652, show: true, borderColor: '#4d4d4d', borderWidth: 2 },   // 6 B AD
  { left: 439.6, top: 1228, width: 480.4, height: 652, show: true, borderColor: '#4d4d4d', borderWidth: 2 },   // 7 B BD
  { left: 1265.5, top: 1163.6, width: 274, height: 740 },       // 8 B average
  { left: 1919, top: 1228, width: 358, height: 660.5, show: true, borderColor: '#4d4d4d', borderWidth: 2 },    // 9 E IRI
  { left: 2293, top: 1228, width: 357.5, height: 660.5, show: true, borderColor: '#4d4d4d', borderWidth: 2 },  // 10 E VEH
  { left: 3044.2, top: 1163.6, width: 235.4, height: 740 },     // 11 E average
  { left: 453, top: 2081, width: 1018, height: 998 },           // 12 C
  { left: 2130, top: 2081, width: 1039, height: 998 }           // 13 F
];

const xAxes = [
  boxXAxis(0, groupsA, 4), boxXAxis(1, groupsA, 4), pcoaAxis(2, -0.702, 0.7765, [-0.4, 0, 0.4], false),
  boxXAxis(3, groupsD, 5), boxXAxis(4, groupsD, 9), pcoaAxis(5, -0.8632, 0.6331, [-0.5, 0, 0.5], false),
  sampleXAxis(6, adSamples), sampleXAxis(7, bdSamples), avgXAxis(8, avgGroupsB),
  sampleXAxis(9, iriSamples), sampleXAxis(10, vehSamples), avgXAxis(11, avgGroupsE),
  lfcXAxis(12, -3, 2.4, [-3, -2, -1, 0, 1, 2]), lfcXAxis(13, -4.164, 2.725, [-4, -2, 0, 2])
];
const yAxes = [
  boxYAxis(0, -50, 700, [0, 100, 200, 300, 400, 500, 600]),
  boxYAxis(1, 0.5, 4.75, [1, 2, 3, 4]),
  pcoaAxis(2, -0.716, 0.7695, [-0.4, 0, 0.4], true),
  boxYAxis(3, -25, 400, [0, 100, 200, 300]),
  boxYAxis(4, 3.55, 4.40, [4], v => String(Math.round(v))),
  pcoaAxis(5, -0.7642, 0.8753, [-0.4, 0, 0.4, 0.8], true),
  pctYAxis(6, true), pctYAxis(7, false), avgYAxis(8, 19),
  pctYAxis(9, true), pctYAxis(10, false), avgYAxis(11, 15.4),
  taxonYAxis(12, cTaxa), taxonYAxis(13, fTaxa)
];

// ---------------- series ----------------
const GRID_GREY = '#e5e5e5';
const series = [
  gridSeries(0, richnessGridA, [1, 2], 1, 300, GRID_GREY, 2),
  gridSeries(1, shannonGridA, [1, 2], 1, 3, GRID_GREY, 2),
  gridSeries(3, richnessGridD, [1, 2], 1, 300, GRID_GREY, 2),
  gridSeries(4, shannonGridD, [1, 2], 1, 4, GRID_GREY, 2),
  gridSeries(6, [], adSamples.map((s, i) => i), 0, 50, '#ebebeb', 1.5),
  gridSeries(7, [], bdSamples.map((s, i) => i), 0, 50, '#ebebeb', 1.5),
  gridSeries(9, [], iriSamples.map((s, i) => i), 0, 50, '#ebebeb', 1.5),
  gridSeries(10, [], vehSamples.map((s, i) => i), 0, 50, '#ebebeb', 1.5),
  boxSeries(0, richnessBoxAD, richnessBoxBD, RED_BOX, BLUE_BOX),
  jitterSeries(0, 1, richnessAD, richnessADJitter, RED_PT), jitterSeries(0, 2, richnessBD, richnessBDJitter, BLUE_PT),
  boxSeries(1, shannonBoxAD, shannonBoxBD, RED_BOX, BLUE_BOX),
  jitterSeries(1, 1, shannonAD, shannonADJitter, RED_PT), jitterSeries(1, 2, shannonBD, shannonBDJitter, BLUE_PT),
  ellipseSeries(2, ellipseAD, RED_DOT), ellipseSeries(2, ellipseBD, '#add8e6'),
  dotSeries(2, pcoaAD, RED_DOT), dotSeries(2, pcoaBD, BLUE_PT),
  boxSeries(3, richnessBoxIRI, richnessBoxVEH, RED_BOX, PURP_BOX),
  jitterSeries(3, 1, richnessIRI, richnessIRIJitter, RED_PT), jitterSeries(3, 2, richnessVEH, richnessVEHJitter, PURP_PT),
  boxSeries(4, shannonBoxIRI, shannonBoxVEH, RED_BOX, PURP_BOX),
  jitterSeries(4, 1, shannonIRI, shannonIRIJitter, RED_PT), jitterSeries(4, 2, shannonVEH, shannonVEHJitter, PURP_PT),
  ellipseSeries(5, ellipseIRI, RED_DOT), ellipseSeries(5, ellipseVEH, PURP_PT),
  dotSeries(5, pcoaIRI, RED_DOT), dotSeries(5, pcoaVEH, PURP_PT)
];
series.push(...stackSeries(6, [
  [adVerruco, PHY.Verrucomicrobia], [adProteo, PHY.Proteobacteria], [adFirm, PHY.Firmicutes, stripes(18)],
  [adFirmRare, BLACK], [adEury, PHY.Euryarchaeota], [adBact, PHY.Bacteroidetes, stripes(22)], [adBactRare, BLACK],
  [adActino, PHY.Actinobacteria], [adActinoRare, BLACK]], 2.5, '0%'));
series.push(...stackSeries(7, [
  [bdVerruco, PHY.Verrucomicrobia], [bdProteo, PHY.Proteobacteria], [bdFirm, PHY.Firmicutes, stripes(18)],
  [bdFirmRare, BLACK], [bdEury, PHY.Euryarchaeota], [bdBact, PHY.Bacteroidetes, stripes(22)], [bdBactRare, BLACK],
  [bdActino, PHY.Actinobacteria], [bdActinoRare, BLACK]], 2.5, '0%'));
series.push(...avgSeries(8, [
  [avgVerrucoB, PHY.Verrucomicrobia], [avgProteoB, PHY.Proteobacteria], [avgFirmB, PHY.Firmicutes],
  [avgEuryB, PHY.Euryarchaeota], [avgBactB, PHY.Bacteroidetes], [avgActinoB, PHY.Actinobacteria]], 124));
series.push(...stackSeries(9, [
  [iriVerruco, PHY.Verrucomicrobia], [iriProteo, PHY.Proteobacteria], [iriFirm, PHY.Firmicutes, stripes(16)],
  [iriFirmRare, BLACK], [iriDefer, PHY.Deferribacteres], [iriMelaina, PHY.Candidatus_Melainabacteria],
  [iriBact, PHY.Bacteroidetes, stripes(13)], [iriBactRare, BLACK], [iriUncl, PHY.Bacteria_unclassified, stripes(6)],
  [iriUnclRare, BLACK], [iriActino, PHY.Actinobacteria], [iriActinoRare, BLACK]], 2, '10%'));
series.push(...stackSeries(10, [
  [vehVerruco, PHY.Verrucomicrobia], [vehProteo, PHY.Proteobacteria], [vehFirm, PHY.Firmicutes, stripes(16)],
  [vehFirmRare, BLACK], [vehDefer, PHY.Deferribacteres], [vehMelaina, PHY.Candidatus_Melainabacteria],
  [vehBact, PHY.Bacteroidetes, stripes(13)], [vehBactRare, BLACK], [vehUncl, PHY.Bacteria_unclassified, stripes(6)],
  [vehUnclRare, BLACK], [vehActino, PHY.Actinobacteria], [vehActinoRare, BLACK]], 2, '10%'));
series.push(...avgSeries(11, [
  [avgVerrucoE, PHY.Verrucomicrobia], [avgTenerE, PHY.Tenericutes], [avgProteoE, PHY.Proteobacteria],
  [avgFirmE, PHY.Firmicutes], [avgDeferE, PHY.Deferribacteres], [avgMelainaE, PHY.Candidatus_Melainabacteria],
  [avgBactE, PHY.Bacteroidetes], [avgUnclE, PHY.Bacteria_unclassified], [avgActinoE, PHY.Actinobacteria]], 106));
series.push(lfcSeries(12, cLogFC, cPhylum, C_COL), lfcSeries(13, fLogFC, fPhylum, F_COL));

const chart = echarts.init(document.getElementById('main'), null, { renderer: 'canvas', width: 3534, height: 3173 });
chart.setOption({
  backgroundColor: '#3c7a1f',
  animation: false,
  textStyle: { fontFamily: FONT },
  grid: grids,
  xAxis: xAxes,
  yAxis: yAxes,
  series,
  graphic: { elements: graphics }
});
</script>
</body>
</html>
